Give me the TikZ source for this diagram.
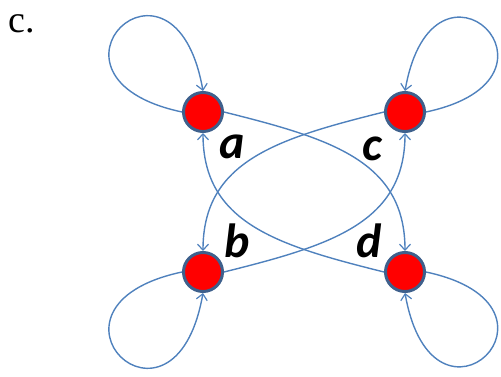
\documentclass[tikz,border=0pt]{standalone}
\usepackage{fontspec}
\setmainfont{Liberation Serif}
\newfontfamily\labfont{Carlito}
\usetikzlibrary{arrows.meta}
\definecolor{edgeblue}{RGB}{79,129,189}
\definecolor{rimblue}{RGB}{62,96,140}
\tikzset{
  vertex/.style={circle, fill=red, draw=rimblue, line width=3pt, minimum size=39pt, inner sep=0pt},
  link/.style={draw=edgeblue, line width=1.4pt, -{Straight Barb[length=6pt,width=11pt,line width=1.2pt]}},
  vlabel/.style={anchor=base, font=\labfont\bfseries\itshape\fontsize{48}{48}\selectfont, inner sep=0pt},
}
\begin{document}
\begin{tikzpicture}[x=1pt,y=1pt]
\useasboundingbox (0,0) rectangle (501,376);
\node[anchor=base west, inner sep=0pt, font=\fontsize{38}{38}\selectfont] (title) at (8,344) {c.};
\node[vertex] (a) at (203,264) {};
\node[vertex] (c) at (405,264) {};
\node[vertex] (b) at (203,104) {};
\node[vertex] (d) at (405,104) {};
\node[vlabel] (la) at (232,218) {a};
\node[vlabel] (lc) at (372,216) {c};
\node[vlabel] (lb) at (237,119) {b};
\node[vlabel] (ld) at (369,119) {d};
% crossing connectors
\draw[link] (a.east) .. controls +(-14:110) and +(0,90) .. (d.north);
\draw[link] (d.west) .. controls +(166:110) and +(0,-90) .. (a.south);
\draw[link] (b.east) .. controls +(14:110) and +(0,-90) .. (c.south);
\draw[link] (c.west) .. controls +(194:110) and +(0,90) .. (b.north);
% self loops
\draw[link] (a.west) .. controls +(168:166) and +(100:166) .. (a.north);
\draw[link] (c.east) .. controls +(12:163) and +(80:163) .. (c.north);
\draw[link] (b.west) .. controls +(192:166) and +(260:166) .. (b.south);
\draw[link] (d.east) .. controls +(-12:163) and +(280:163) .. (d.south);
\end{tikzpicture}
\end{document}
